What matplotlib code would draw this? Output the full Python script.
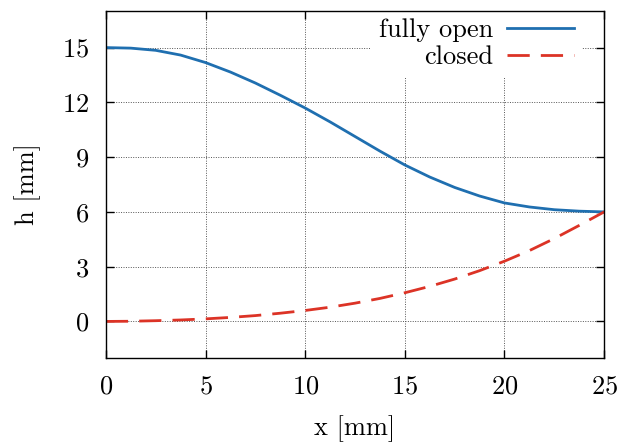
import matplotlib
matplotlib.use("Agg")
import matplotlib.pyplot as plt

# ── Data ───────────────────────────────────────────────────────────────────────
x_mm = [0, 1.25, 2.5, 3.75, 5, 6.25, 7.5, 8.75, 10, 11.25, 12.5,
        13.75, 15, 16.25, 17.5, 18.75, 20, 21.25, 22.5, 23.75, 25]
h_open = [15.0, 14.97, 14.85, 14.59, 14.18, 13.66, 13.06, 12.39, 11.69, 10.93, 10.13,
          9.33, 8.57, 7.91, 7.34, 6.87, 6.49, 6.27, 6.12, 6.04, 6.0]
h_closed = [0.0, 0.01, 0.04, 0.08, 0.14, 0.22, 0.32, 0.45, 0.6, 0.78, 1.0,
            1.26, 1.57, 1.92, 2.32, 2.78, 3.30, 3.88, 4.54, 5.26, 6.0]
x_ticks = [0, 5, 10, 15, 20, 25]
y_ticks = [0, 3, 6, 9, 12, 15]

plt.rcParams["font.family"] = ["cmr10", "DejaVu Serif"]
plt.rcParams["axes.formatter.use_mathtext"] = True
plt.rcParams["font.size"] = 19

fig = plt.figure(figsize=(6.19, 4.43), dpi=100)
ax = fig.add_axes([0.171, 0.192, 0.805, 0.783])

ax.plot(x_mm, h_open, color="#1f6fb0", lw=2.0, label="fully open")
ax.plot(x_mm, h_closed, color="#dc3326", lw=2.0, dashes=(8, 4), label="closed")

ax.set_xlim(0, 25)
ax.set_ylim(-2, 17)
ax.set_xticks(x_ticks)
ax.set_yticks(y_ticks)
ax.grid(True, linestyle=(0, (1, 1.5)), color="#555555", lw=0.7)
ax.set_axisbelow(True)
ax.tick_params(direction="in", length=6, width=1, top=True, right=True, pad=12)
for sp in ax.spines.values():
    sp.set_linewidth(1.0)

ax.set_xlabel("x [mm]", labelpad=12)
ax.set_ylabel("h [mm]", labelpad=15)

leg = ax.legend(loc="upper right", bbox_to_anchor=(0.982, 1.04), markerfirst=False,
                handlelength=2.55, handletextpad=0.5, labelspacing=0.14,
                borderpad=0.3, frameon=True, fancybox=False, framealpha=1.0)
leg.get_frame().set_edgecolor("none")
leg.get_frame().set_facecolor("white")
leg.set_zorder(2.4)  # keep spines and ticks on top of the legend box
for t in leg.get_texts():
    t.set_ha("right")

fig.savefig("out.png", dpi=100)
